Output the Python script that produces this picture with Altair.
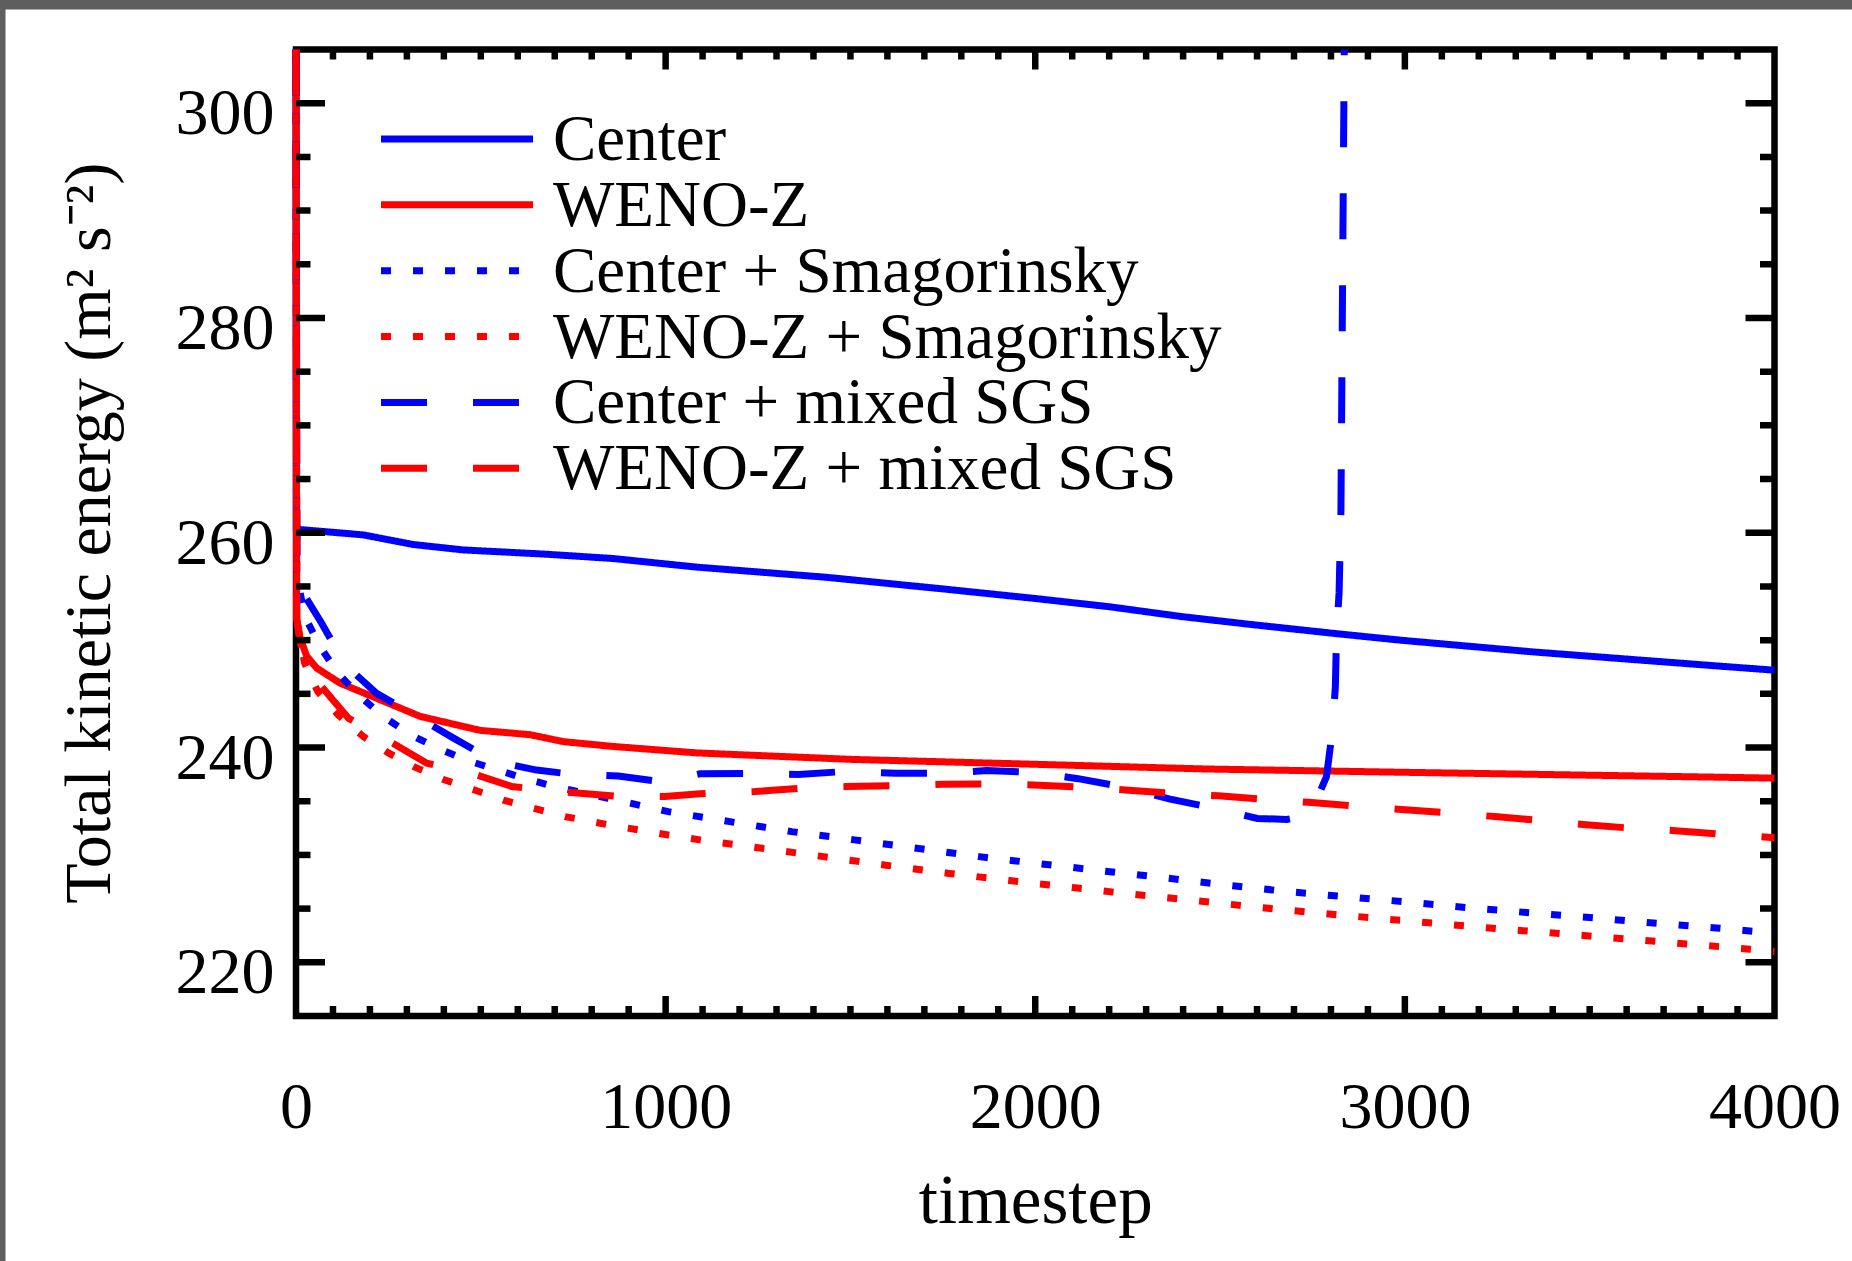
import altair as alt
import pandas as pd

# ---------------- data ----------------
SERIES = ["Center", "WENO-Z", "Center + Smagorinsky", "WENO-Z + Smagorinsky",
          "Center + mixed SGS", "WENO-Z + mixed SGS"]
COLORS = ["#0000ff", "#ff0000", "#0000ff", "#ff0000", "#0000ff", "#ff0000"]
DASHES = [[1, 0], [1, 0], [10, 22], [10, 22], [46, 46], [46, 46]]

CENTER_T = [0, 1, 11, 182, 318, 453, 678, 858, 1084, 1436, 1756, 2002, 2203, 2395, 2586, 2816, 2987, 3348, 3844, 4000]
CENTER_V = [305, 260.4, 260.3, 259.8, 258.9, 258.4, 258.0, 257.6, 256.8, 255.85, 254.75, 253.87, 253.1, 252.2,
            251.45, 250.6, 250.0, 248.9, 247.6, 247.2]

WENO_T = [0, 2, 8, 29, 56, 119, 182, 273, 336, 498, 633, 723, 858, 1084, 1499, 1968, 2464, 2987, 3844, 4000]
WENO_V = [305, 252, 250.5, 248.5, 247.4, 246.0, 245.1, 243.8, 242.9, 241.6, 241.2, 240.55, 240.1, 239.5,
          238.9, 238.47, 238.0, 237.7, 237.24, 237.15]

CS_T = [0, 2, 24, 65, 114, 174, 236, 309, 386, 463, 620, 701, 841, 1007, 1174, 1341, 1511, 1679, 1848, 2017,
        2184, 2347, 2516, 2685, 2854, 3014, 3185, 3355, 3523, 3694, 3843, 4000]
CS_V = [305, 256, 252.2, 249.4, 246.9, 244.75, 242.9, 241.2, 239.9, 238.8, 237.1, 236.36, 235.3, 234.03, 233.1,
        232.17, 231.4, 230.62, 229.84, 229.16, 228.5, 227.88, 227.2, 226.58, 226.06, 225.6, 225.04, 224.57,
        224.1, 223.6, 223.2, 222.7]

WS_T = [0, 2, 23, 59, 115, 183, 250, 320, 401, 483, 561, 642, 728, 845, 1007, 1093, 1260, 1427, 1596, 1762,
        1931, 2101, 2263, 2432, 2601, 2771, 2940, 3100, 3269, 3438, 3608, 3762, 3934, 4000]
WS_V = [305, 252, 247.9, 245.2, 243.0, 241.0, 239.5, 238.2, 237.0, 236.05, 235.1, 234.35, 233.57, 232.8,
        231.86, 231.4, 230.62, 229.84, 229.04, 228.3, 227.61, 226.96, 226.34, 225.75, 225.13, 224.57, 224.05,
        223.58, 223.08, 222.62, 222.15, 221.71, 221.22, 221.0]

CM_T = [0, 3, 69, 133, 218, 326, 425, 538, 651, 750, 872, 990, 1093, 1237, 1359, 1482, 1623, 1749, 1868, 1995,
        2116, 2232, 2365, 2484, 2601, 2680, 2721, 2757, 2788, 2804, 2812, 2815, 2822, 2827, 2836]
CM_V = [305, 255.3, 251.6, 247.7, 245.05, 242.9, 240.9, 238.7, 237.9, 237.5, 237.35, 236.8, 237.55, 237.6,
        237.5, 237.76, 237.6, 237.6, 237.85, 237.7, 237.1, 236.36, 235.2, 234.35, 233.4, 233.3, 233.56, 234.8,
        237.3, 241.6, 245.7, 250.5, 254.4, 262, 305]

WM_T = [0, 2, 20, 65, 142, 254, 354, 476, 584, 710, 872, 998, 1093, 1242, 1364, 1488, 1625, 1749, 1873, 1995,
        2120, 2243, 2374, 2495, 2615, 2739, 2860, 2982, 3124, 3244, 3366, 3490, 3609, 3733, 3852, 4000]
WM_V = [305, 252, 248, 245.85, 242.73, 240.55, 238.54, 237.6, 236.37, 235.9, 235.45, 235.43, 235.7, 235.9,
        236.2, 236.36, 236.46, 236.58, 236.61, 236.52, 236.33, 236.05, 235.74, 235.5, 235.2, 234.9, 234.56,
        234.25, 233.9, 233.57, 233.2, 232.8, 232.5, 232.26, 231.95, 231.6]

X_LABELS = [0, 1000, 2000, 3000, 4000]
Y_LABELS = [220, 240, 260, 280, 300]
X_MAJOR = [1000, 2000, 3000]
X_MINOR = [t for t in range(100, 4000, 100) if t % 1000 != 0]
Y_MAJOR = [220, 240, 260, 280, 300]
Y_MINOR = [v for v in range(225, 305, 5) if v % 20 != 0]
X_DOMAIN = [0, 4000]
Y_DOMAIN = [215, 305]

# ---------------- build ----------------
rows = []
k = 0
for name, ts, vs in zip(SERIES, [CENTER_T, WENO_T, CS_T, WS_T, CM_T, WM_T],
                        [CENTER_V, WENO_V, CS_V, WS_V, CM_V, WM_V]):
    for t, v in zip(ts, vs):
        rows.append({"series": name, "t": t, "v": v, "order": k})
        k += 1
df = pd.DataFrame(rows)

W, H = 1478.5, 966.5
PAD = {"left": 296, "top": 49.5, "right": 77.5, "bottom": 245}
FONT = "Liberation Serif"
FS = 66
LW = 7
TK = 6.5

xs = alt.Scale(domain=X_DOMAIN, nice=False, zero=False)
ys = alt.Scale(domain=Y_DOMAIN, nice=False, zero=False)
cs = alt.Scale(domain=SERIES, range=COLORS)
ds = alt.Scale(domain=SERIES, range=DASHES)

x_axis = alt.Axis(values=X_LABELS, format="d", ticks=False, domain=False, grid=False,
                  labelPadding=111, labelBaseline="alphabetic", labelFlush=False, labelOverlap=False,
                  labelFont=FONT, labelFontSize=FS, labelColor="black",
                  title="timestep", titleFont=FONT, titleFontSize=69, titleFontWeight="normal",
                  titleColor="black", titleX=W / 2, titleY=206, titleBaseline="alphabetic",
                  titleAlign="center", zindex=1)
y_axis = alt.Axis(values=Y_LABELS, format="d", ticks=False, domain=False, grid=False,
                  labelPadding=22, labelOffset=30.6, labelBaseline="alphabetic", labelOverlap=False,
                  labelFont=FONT, labelFontSize=FS, labelColor="black",
                  title="Total kinetic energy (m² s⁻²)", titleFont=FONT, titleFontSize=FS,
                  titleFontWeight="normal", titleColor="black", titleX=-187, titleY=H / 2,
                  titleAngle=270, titleBaseline="alphabetic", titleAlign="center", zindex=1)

lines = alt.Chart(df).mark_line(strokeWidth=LW, strokeCap="butt").encode(
    x=alt.X("t:Q", scale=xs, axis=x_axis),
    y=alt.Y("v:Q", scale=ys, axis=y_axis),
    color=alt.Color("series:N", scale=cs, legend=None),
    strokeDash=alt.StrokeDash("series:N", scale=ds, legend=None),
    order="order:Q",
)


def xticks(vals, length, at):
    return alt.Chart(pd.DataFrame({"t": vals})).mark_tick(
        orient="vertical", size=2 * length, thickness=TK, color="black", opacity=1, clip=True
    ).encode(x=alt.X("t:Q", scale=xs),
             y=alt.YDatum(at, type="quantitative", scale=ys))


def yticks(vals, length, at):
    return alt.Chart(pd.DataFrame({"v": vals})).mark_tick(
        orient="horizontal", size=2 * length, thickness=TK, color="black", opacity=1, clip=True
    ).encode(y=alt.Y("v:Q", scale=ys),
             x=alt.XDatum(at, type="quantitative", scale=xs))


tick_layers = [
    xticks(X_MINOR, 10, Y_DOMAIN[0]), xticks(X_MAJOR, 20, Y_DOMAIN[0]),
    xticks(X_MINOR, 10, Y_DOMAIN[1]), xticks(X_MAJOR, 20, Y_DOMAIN[1]),
    yticks(Y_MINOR, 14.5, X_DOMAIN[0]), yticks(Y_MAJOR, 29, X_DOMAIN[0]),
    yticks(Y_MINOR, 14.5, X_DOMAIN[1]), yticks(Y_MAJOR, 29, X_DOMAIN[1]),
]

leg = pd.DataFrame({"series": SERIES, "row": list(range(len(SERIES)))})
leg_rules = alt.Chart(leg).transform_calculate(ly="89.5 + datum.row * 65.86").mark_rule(
    strokeWidth=LW, strokeCap="butt"
).encode(
    x=alt.value(85), x2=alt.value(237),
    y=alt.Y("ly:Q", scale=None),
    color=alt.Color("series:N", scale=cs, legend=None),
    strokeDash=alt.StrokeDash("series:N", scale=ds, legend=None),
)
leg_text = alt.Chart(leg).transform_calculate(ly="89.5 + datum.row * 65.86").mark_text(
    align="left", baseline="alphabetic", dy=21, font=FONT, fontSize=65, color="black"
).encode(
    x=alt.value(257), y=alt.Y("ly:Q", scale=None), text="series:N",
)

# page frame decoration (grey strip at top and left of the screenshot)
one = pd.DataFrame({"a": [0]})
grey_top = alt.Chart(one).mark_rect(color="#5e5e5e").encode(
    x=alt.value(-296), x2=alt.value(1556), y=alt.value(-49.5), y2=alt.value(-40))
grey_left = alt.Chart(one).mark_rect(color="#5e5e5e").encode(
    x=alt.value(-296), x2=alt.value(-290.5), y=alt.value(-49.5), y2=alt.value(1211.5))

chart = alt.layer(lines, *tick_layers, grey_top, grey_left, leg_rules, leg_text).properties(
    width=W, height=H, padding=PAD, autosize=alt.AutoSizeParams(type="none"), background="white"
).configure_view(stroke="black", strokeWidth=6.5)

chart.save("out.html", embed_options={"renderer": "svg", "actions": False})
